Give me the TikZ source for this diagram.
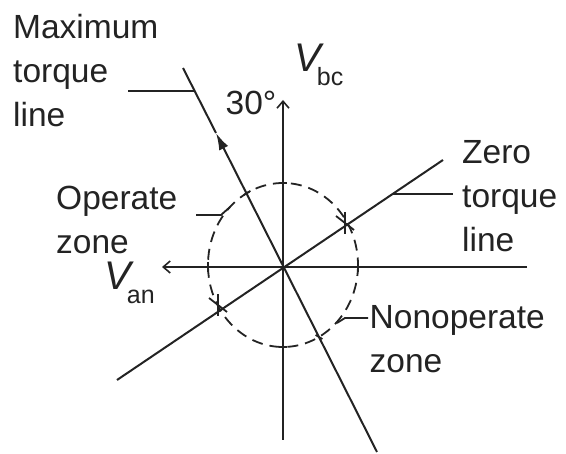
\documentclass[tikz,border=0pt]{standalone}
\usepackage{fontspec}
\setmainfont{Liberation Sans}
\usetikzlibrary{arrows.meta, positioning, calc}
\definecolor{inkgray}{RGB}{35, 35, 35}
\tikzset{
  axis line/.style={
    draw=inkgray,
    line width=2pt
  },
  axis arrow/.style={
    -{Straight Barb[length=7pt, width=12pt, line width=1.6pt]}
  },
  zone circle/.style={
    draw=inkgray,
    line width=1.8pt,
    dash pattern=on 11pt off 7pt
  },
  leader/.style={
    draw=inkgray,
    line width=1.8pt
  },
  star mark/.style={
    draw=inkgray,
    line width=1.8pt
  },
  lbl/.style={
    font=\fontsize{33.5}{44}\selectfont,
    text=inkgray,
    inner sep=0pt,
    align=left,
    anchor=base west
  }
}
\newcommand{\phasorname}[2]{{\fontsize{40}{40}\selectfont\itshape #1}\kern-4pt\raisebox{-14pt}{\fontsize{25}{25}\selectfont #2}}

\begin{document}
\begin{tikzpicture}[x=1pt, y=-1pt]
  \useasboundingbox (0,0) rectangle (566,454);

  \coordinate (O) at (283,267);
  \coordinate (vbot) at (283,440);
  \coordinate (vtop) at (283,100);
  \coordinate (hright) at (527,267);
  \coordinate (hleft) at (162,267);
  \coordinate (ztlow) at (117,380);
  \coordinate (zthigh) at (443,160);
  \coordinate (mtlow) at (377,452);
  \coordinate (mthigh) at (183,68);
  \coordinate (mtarrow) at (216,133);
  \coordinate (zu) at (345,223);
  \coordinate (zl) at (218,305);

  % axes and torque lines
  \draw[axis line, axis arrow] (vbot) -- (vtop);
  \draw[axis line, axis arrow] (hright) -- (hleft);
  \draw[axis line] (ztlow) -- (zthigh);
  \draw[axis line, -{Latex[length=17pt, width=10pt]}] (mtlow) -- (mtarrow);
  \draw[axis line] (mtarrow) -- (mthigh);

  % operate zone
  \draw[zone circle] (283,265) ellipse [x radius=75, y radius=82];
  \foreach \tx/\ty/\dx/\dy in {283/183/4/0, 283/347/4/0, 208/267/0/5, 358/267/0/5,
                               247/193/3.4/-2.1, 319/337/3.4/2.1} {
    \draw[leader] (\tx-\dx,\ty-\dy) -- (\tx+\dx,\ty+\dy);
  }
  \foreach \p in {zu, zl} {
    \draw[star mark] ($(\p)+(0,-11)$) -- ($(\p)+(0,11)$);
    \draw[star mark] ($(\p)+(-9,-7)$) -- ($(\p)+(9,7)$);
  }

  % labels
  \node[lbl] (mtlbl) at (13,127) {Maximum\\torque\\line};
  \node[lbl] (ztlbl) at (462,252) {Zero\\torque\\line};
  \node[lbl] (oplbl) at (56,254) {Operate\\zone};
  \node[lbl] (noplbl) at (369.5,373) {Nonoperate\\zone};
  \node[lbl] (anglbl) at (225.5,115) {30°};
  \node[lbl] (vbclbl) at (294,72) {\phasorname{V}{bc}};
  \node[lbl] (vanlbl) at (104,290) {\phasorname{V}{an}};

  % leaders
  \coordinate (mtl1) at (128,91);
  \coordinate (mtl2) at (194.6,91);
  \coordinate (ztl1) at (392,194);
  \coordinate (ztl2) at (453,194);
  \coordinate (opl1) at (196,215);
  \coordinate (opl2) at (221,215);
  \coordinate (opl3) at (230,207);
  \coordinate (npl1) at (368,318);
  \coordinate (npl2) at (345,318);
  \coordinate (npl3) at (337,323);
  \draw[leader] (mtl1) -- (mtl2);
  \draw[leader] (ztl1) -- (ztl2);
  \draw[leader] (opl1) -- (opl2) -- (opl3);
  \draw[leader] (npl1) -- (npl2) -- (npl3);
\end{tikzpicture}
\end{document}
